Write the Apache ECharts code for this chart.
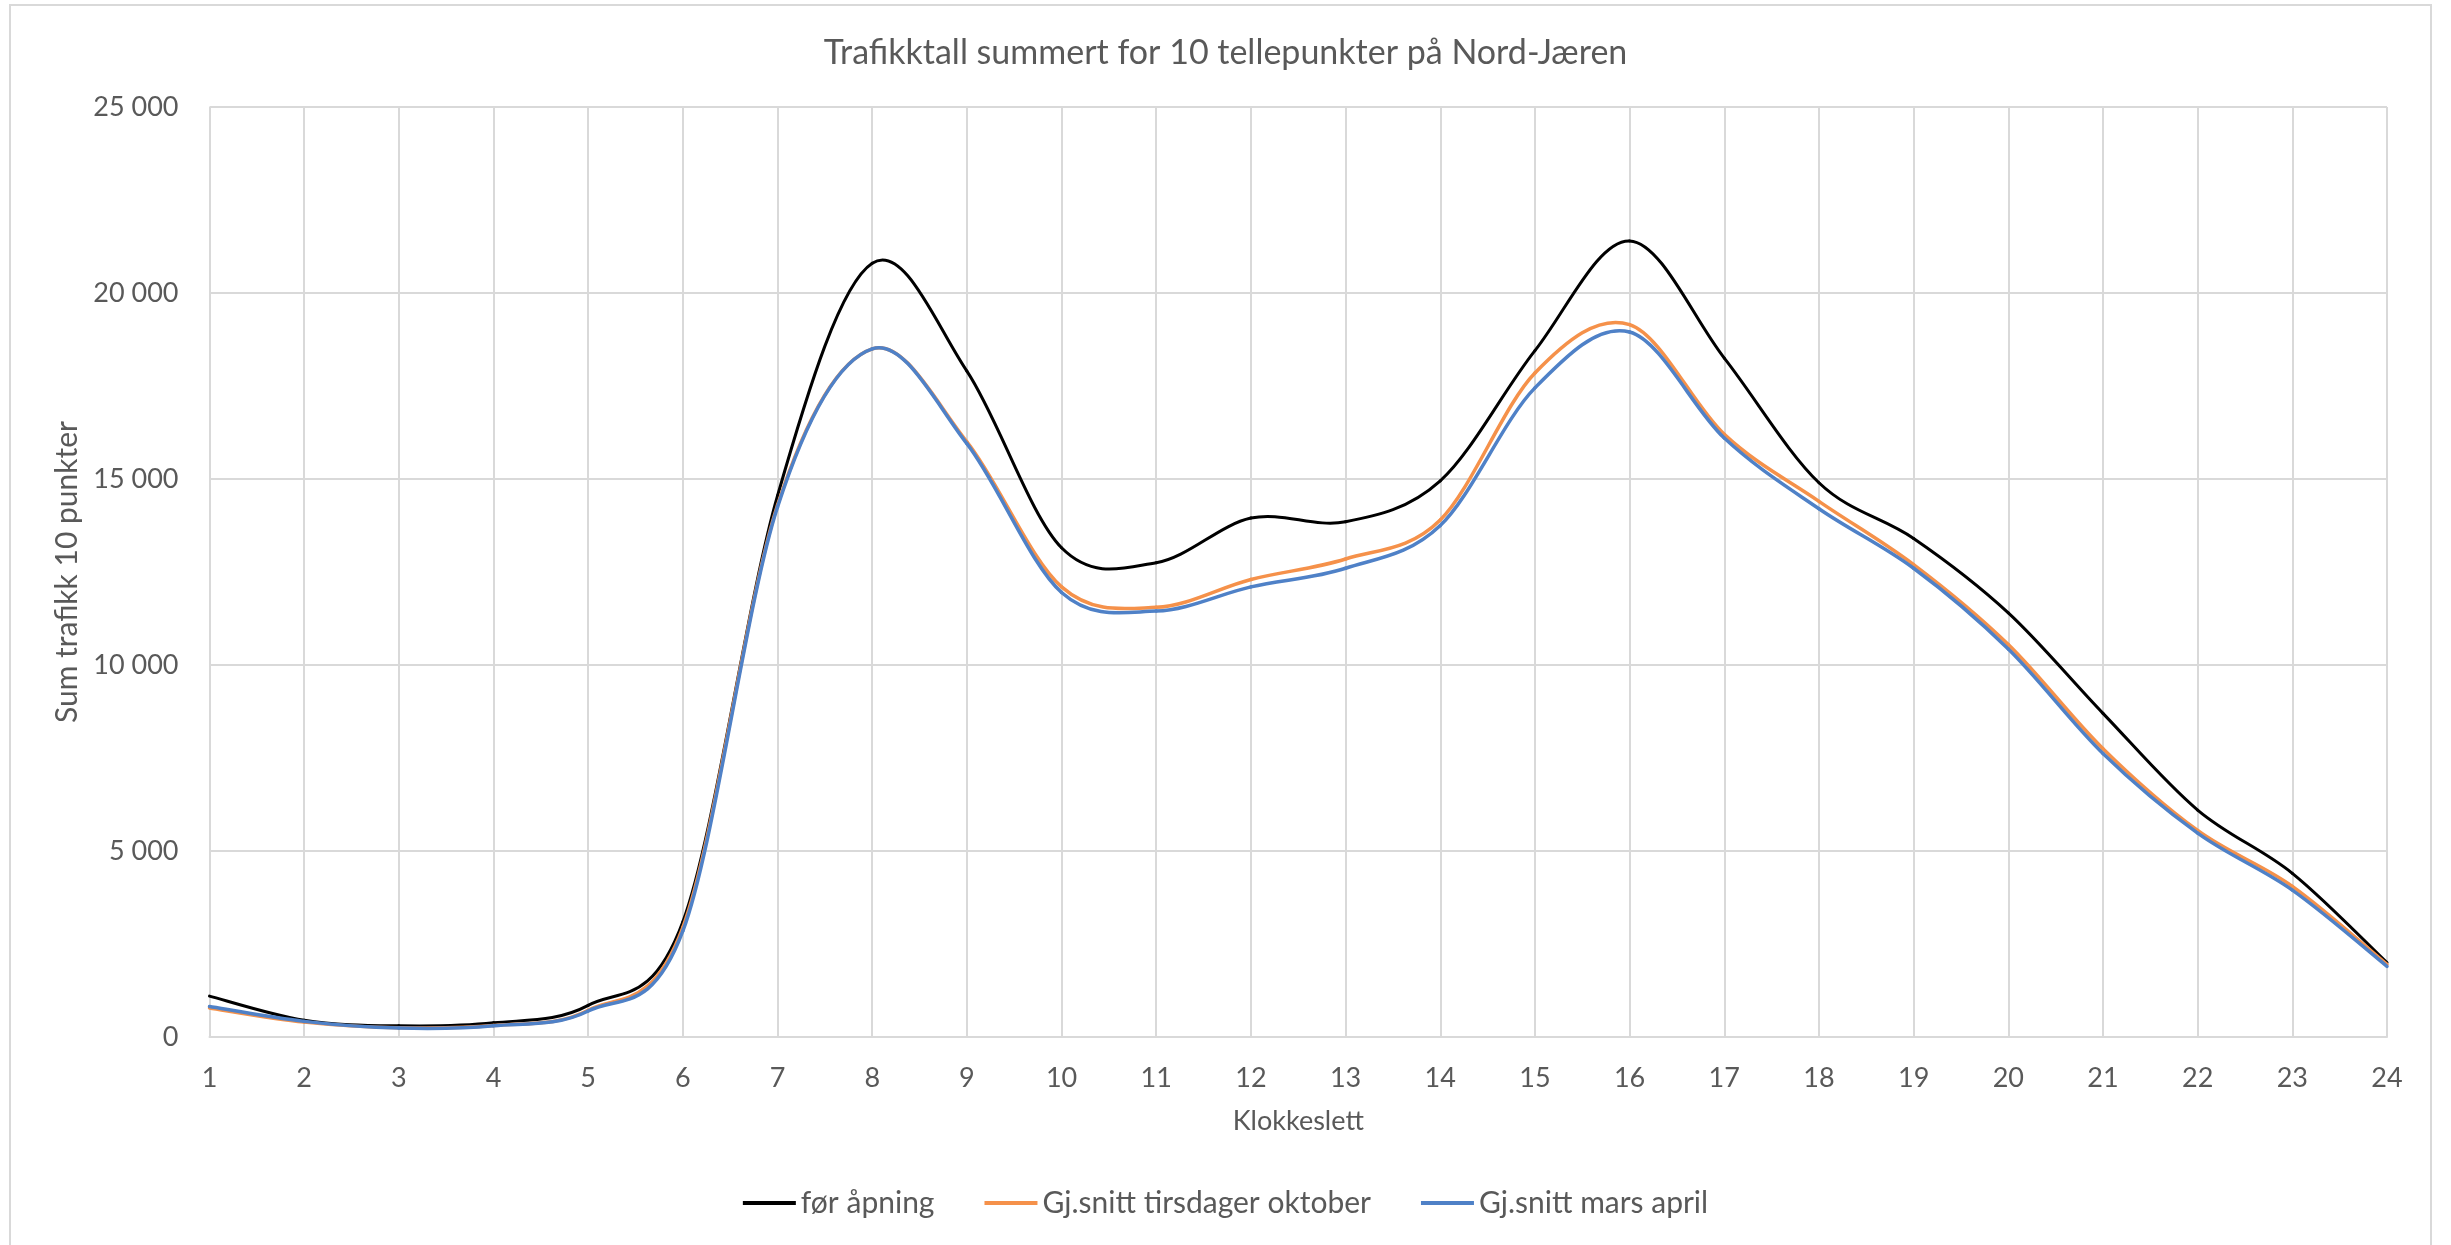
<!DOCTYPE html>
<html>
<head>
<meta charset="utf-8">
<script src="https://cdn.jsdelivr.net/npm/echarts@6/dist/echarts.min.js"></script>
<style>
  html, body { margin: 0; padding: 0; background: #fff; }
  #chart { width: 2451px; height: 1245px; position: absolute; left: 0; top: 0; }
  #frame { position: absolute; left: 9px; top: 4px; width: 2423px; height: 1250px; border: 2px solid #D9D9D9; box-sizing: border-box; pointer-events: none; }
</style>
</head>
<body>
<div id="chart"></div>
<div id="frame"></div>
<script>
const titleText = 'Trafikktall summert for 10 tellepunkter på Nord-Jæren';
const xAxisName = 'Klokkeslett';
const yAxisName = 'Sum trafikk 10 punkter';
const hours = ['1','2','3','4','5','6','7','8','9','10','11','12','13','14','15','16','17','18','19','20','21','22','23','24'];
const seriesNames = ['før åpning', 'Gj.snitt tirsdager oktober', 'Gj.snitt mars april'];
const forApning = [1100, 450, 300, 380, 850, 3100, 14550, 20800, 17900, 13150, 12750, 13950, 13850, 14950, 18450, 21400, 18250, 14900, 13400, 11400, 8700, 6100, 4400, 2000];
const tirsdagerOktober = [780, 400, 250, 310, 720, 2950, 14300, 18500, 16000, 12100, 11550, 12300, 12850, 13900, 17850, 19150, 16200, 14400, 12700, 10550, 7750, 5550, 4050, 1950];
const marsApril = [820, 420, 240, 300, 700, 2850, 14250, 18500, 15950, 11950, 11450, 12100, 12600, 13750, 17450, 18950, 16100, 14200, 12600, 10430, 7620, 5480, 3950, 1900];
const yMin = 0, yMax = 25000, yStep = 5000;

const FONT = 'Lato';
const TXT = '#595959';
const GRID = '#D9D9D9';
const colors = ['#000000', '#F5914A', '#4F81C7'];
const widths = [3, 3.5, 3.5];
const allData = [forApning, tirsdagerOktober, marsApril];

const chart = echarts.init(document.getElementById('chart'), null, { renderer: 'canvas' });

// Smooth (Catmull-Rom style, like a spreadsheet "smoothed line") segment between point i and i+1,
// positioned through the chart's own axes via api.coord.
function makeRenderItem(values, color, width) {
  const n = values.length;
  return function (params, api) {
    const i = params.dataIndex;
    if (i >= n - 1) return null;
    const c = k => {
      const kk = Math.max(0, Math.min(n - 1, k));
      return api.coord([kk, values[kk]]);
    };
    const P0 = c(i - 1), P1 = c(i), P2 = c(i + 1), P3 = c(i + 2);
    const t = 1 / 6;
    return {
      type: 'bezierCurve',
      shape: {
        x1: P1[0], y1: P1[1],
        x2: P2[0], y2: P2[1],
        cpx1: P1[0] + (P2[0] - P0[0]) * t, cpy1: P1[1] + (P2[1] - P0[1]) * t,
        cpx2: P2[0] - (P3[0] - P1[0]) * t, cpy2: P2[1] - (P3[1] - P1[1]) * t
      },
      style: { stroke: color, lineWidth: width, fill: null, lineCap: 'round', lineJoin: 'round' },
      silent: true
    };
  };
}

chart.setOption({
  animation: false,
  backgroundColor: '#ffffff',
  title: {
    text: titleText,
    left: 'center',
    top: 31,
    textStyle: { fontFamily: FONT, fontSize: 34, fontWeight: 'normal', color: TXT }
  },
  legend: {
    bottom: 22,
    left: 'center',
    itemWidth: 53,
    itemHeight: 4,
    itemGap: 50,
    icon: 'rect',
    textStyle: { fontFamily: FONT, fontSize: 30, color: TXT },
    data: seriesNames
  },
  grid: { left: 209.5, right: 64, top: 107, bottom: 208, containLabel: false },
  xAxis: {
    type: 'category',
    data: hours,
    boundaryGap: false,
    name: xAxisName,
    nameLocation: 'middle',
    nameGap: 71,
    nameTextStyle: { fontFamily: FONT, fontSize: 27, color: TXT },
    axisLine: { show: true, lineStyle: { color: GRID, width: 2 } },
    axisTick: { show: false },
    axisLabel: { fontFamily: FONT, fontSize: 27, color: TXT, margin: 28 },
    splitLine: { show: true, lineStyle: { color: GRID, width: 2 } }
  },
  yAxis: {
    type: 'value',
    min: yMin,
    max: yMax,
    interval: yStep,
    name: yAxisName,
    nameLocation: 'middle',
    nameGap: 126,
    nameTextStyle: { fontFamily: FONT, fontSize: 30, color: TXT },
    axisLine: { show: false },
    axisTick: { show: false },
    axisLabel: {
      fontFamily: FONT, fontSize: 27, color: TXT, margin: 31,
      formatter: v => String(v).replace(/\B(?=(\d{3})+(?!\d))/g, ' ')
    },
    splitLine: { show: true, lineStyle: { color: GRID, width: 2 } }
  },
  series: seriesNames.map((name, s) => ({
    name: name,
    type: 'custom',
    data: allData[s].map((v, i) => [i, v]),
    encode: { x: 0, y: 1 },
    itemStyle: { color: colors[s] },
    renderItem: makeRenderItem(allData[s], colors[s], widths[s]),
    z: 2 + s
  }))
});
</script>
</body>
</html>
